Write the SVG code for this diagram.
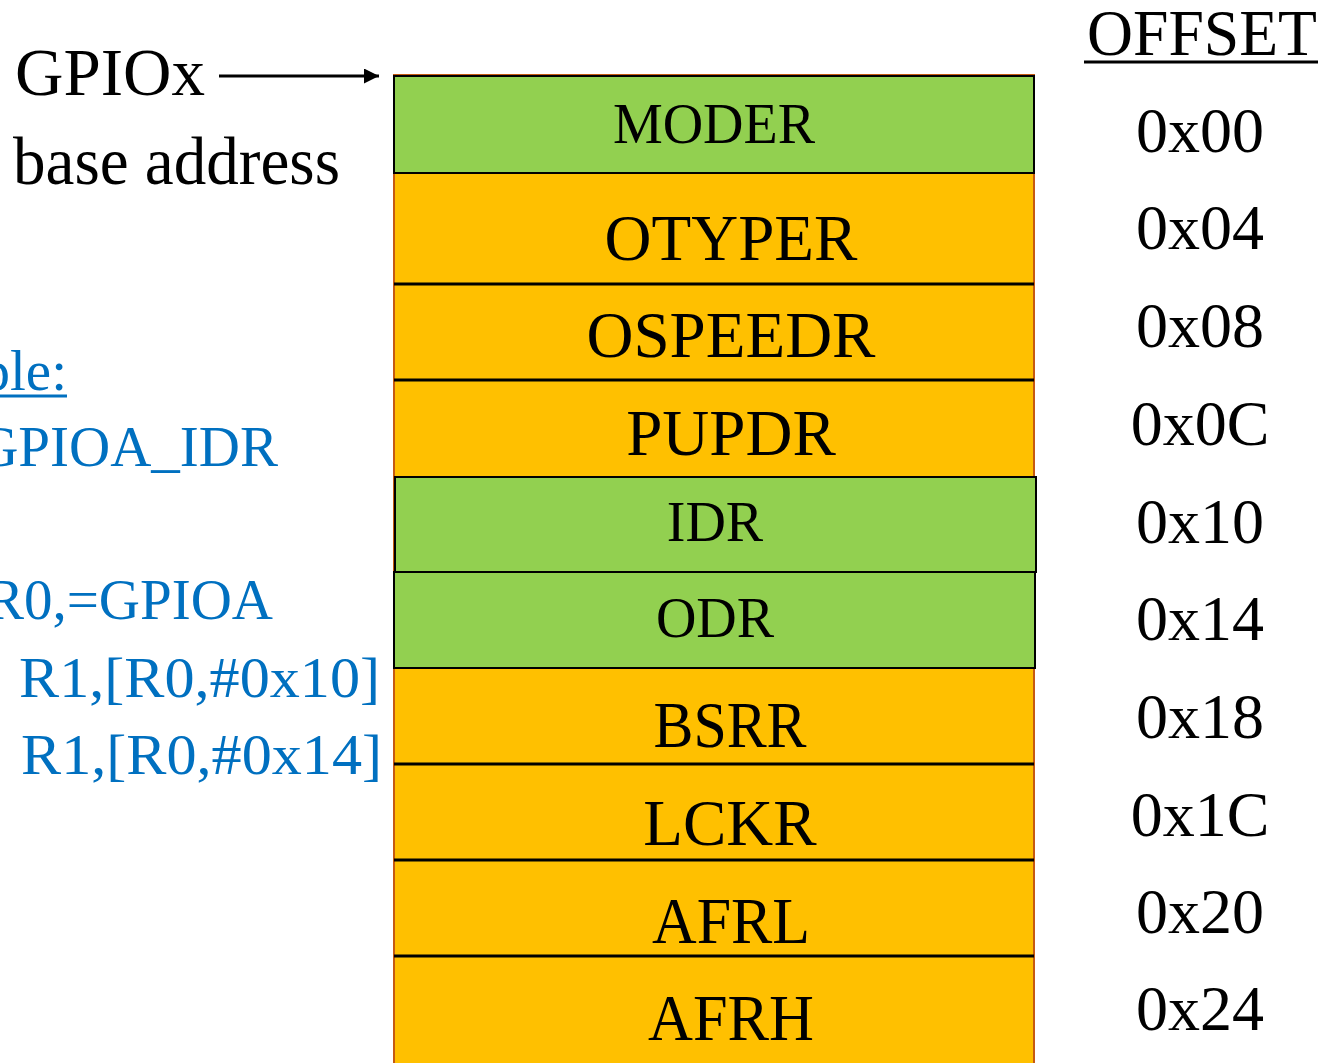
<svg xmlns="http://www.w3.org/2000/svg" width="1322" height="1063" viewBox="0 0 1322 1063">
<style>
text{font-family:"Liberation Serif","Times New Roman",serif;fill:#000}
.reg{font-size:65px;text-anchor:middle}
.regs{font-size:56px;text-anchor:middle}
.off{font-size:64px;text-anchor:middle}
.blue{fill:#0070C0;font-size:57px}
.yel{fill:#FFC000}
.grn{fill:#92D050;stroke:#000;stroke-width:2}
.sep{stroke:#000;stroke-width:3}
</style>
<defs>
<marker id="ah" viewBox="0 0 10 10" refX="10" refY="5" markerWidth="5" markerHeight="5" orient="auto" markerUnits="strokeWidth">
<path d="M0,0 L10,5 L0,10 Z" fill="#000"/>
</marker>
</defs>
<rect width="1322" height="1063" fill="#fff"/>

<g id="base-label">
<text x="15" y="95" font-size="68" textLength="190" lengthAdjust="spacingAndGlyphs">GPIOx</text>
<text x="13" y="184" font-size="68" textLength="327" lengthAdjust="spacingAndGlyphs">base address</text>
</g>

<g id="register-block">
<rect class="yel" x="394" y="75" width="640" height="995" stroke="#C55A11" stroke-width="2"/>
</g>

<g id="MODER"><rect class="grn" x="394" y="76" width="640" height="97"/><text class="regs" x="714" y="143">MODER</text></g>
<g id="OTYPER"><line class="sep" x1="394" y1="284" x2="1034" y2="284"/><text class="reg" x="731" y="260">OTYPER</text></g>
<g id="OSPEEDR"><line class="sep" x1="394" y1="380" x2="1034" y2="380"/><text class="reg" x="731" y="357">OSPEEDR</text></g>
<g id="PUPDR"><text class="reg" x="731" y="455">PUPDR</text></g>
<g id="IDR"><rect class="grn" x="395" y="477" width="641" height="95"/><text class="regs" x="715" y="541" font-size="54">IDR</text></g>
<g id="ODR"><rect class="grn" x="394" y="572" width="641" height="96"/><text class="regs" x="715" y="637">ODR</text></g>
<g id="BSRR"><line class="sep" x1="394" y1="764" x2="1034" y2="764"/><text class="reg" x="730" y="747" textLength="153" lengthAdjust="spacingAndGlyphs">BSRR</text></g>
<g id="LCKR"><line class="sep" x1="394" y1="860" x2="1034" y2="860"/><text class="reg" x="730" y="845">LCKR</text></g>
<g id="AFRL"><line class="sep" x1="394" y1="956" x2="1034" y2="956"/><text class="reg" x="731" y="943" textLength="158" lengthAdjust="spacingAndGlyphs">AFRL</text></g>
<g id="AFRH"><text class="reg" x="731" y="1040" textLength="166" lengthAdjust="spacingAndGlyphs">AFRH</text></g>

<g id="offsets">
<text x="1087" y="55" font-size="66" textLength="230" lengthAdjust="spacingAndGlyphs">OFFSET</text>
<line x1="1084" y1="62" x2="1318" y2="62" stroke="#000" stroke-width="3"/>
<text class="off" x="1200" y="152">0x00</text>
<text class="off" x="1200" y="249">0x04</text>
<text class="off" x="1200" y="347">0x08</text>
<text class="off" x="1200" y="445">0x0C</text>
<text class="off" x="1200" y="543">0x10</text>
<text class="off" x="1200" y="640">0x14</text>
<text class="off" x="1200" y="738">0x18</text>
<text class="off" x="1200" y="836">0x1C</text>
<text class="off" x="1200" y="933">0x20</text>
<text class="off" x="1200" y="1030">0x24</text>
</g>

<g id="example-code">
<text class="blue" x="67" y="390" text-anchor="end">ple:</text>
<line x1="0" y1="396" x2="67" y2="396" stroke="#0070C0" stroke-width="3"/>
<text class="blue" x="278" y="466" text-anchor="end">GPIOA_IDR</text>
<text class="blue" x="273" y="619" text-anchor="end">R0,=GPIOA</text>
<text class="blue" x="19" y="697" textLength="361" lengthAdjust="spacingAndGlyphs">R1,[R0,#0x10]</text>
<text class="blue" x="21" y="774" textLength="361" lengthAdjust="spacingAndGlyphs">R1,[R0,#0x14]</text>
</g>

<g id="connectors">
<line x1="219" y1="76" x2="379" y2="76" stroke="#000" stroke-width="3" marker-end="url(#ah)"/>
</g>
</svg>
